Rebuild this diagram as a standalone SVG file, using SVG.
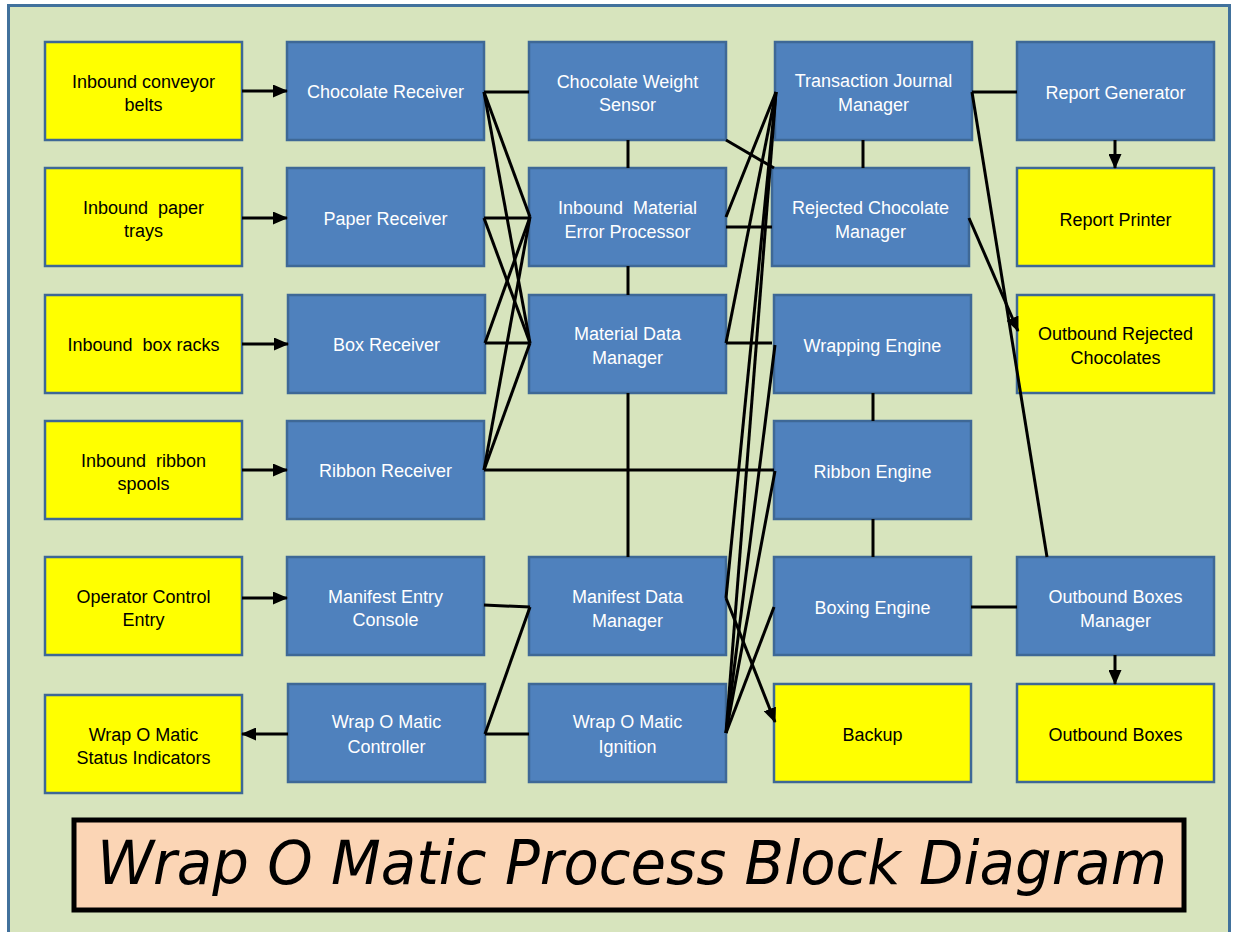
<svg xmlns="http://www.w3.org/2000/svg" width="1234" height="932" viewBox="0 0 1234 932">
<defs>
<marker id="ah" markerWidth="15" markerHeight="13" refX="14" refY="6.5" orient="auto" markerUnits="userSpaceOnUse" viewBox="0 0 15 13">
<path d="M0,0 L15,6.5 L0,13 Z" fill="#000"/>
</marker>
<style>
.b{fill:#4F81BD;stroke:#3E6896;stroke-width:2.5}
.y{fill:#FFFF00;stroke:#3E6896;stroke-width:2.5}
.tw{fill:#FFFFFF;font-family:"Liberation Sans",Arial,sans-serif;font-size:18px;text-anchor:middle;white-space:pre}
.tb{fill:#000000;font-family:"Liberation Sans",Arial,sans-serif;font-size:18px;text-anchor:middle;white-space:pre}
.c line{stroke:#000;stroke-width:3;fill:none}
.c .a{marker-end:url(#ah)}
</style>
</defs>
<rect x="0" y="0" width="1234" height="932" fill="#FFFFFF"/>
<rect x="8.5" y="5.5" width="1221" height="930" fill="#D7E4BD" stroke="#41719C" stroke-width="3"/>

<g id="n-conveyor"><rect class="y" x="45" y="42" width="197" height="98"/><text class="tb" x="143.5" y="87.5">Inbound conveyor</text><text class="tb" x="143.5" y="110.5">belts</text></g>
<g id="n-paper-trays"><rect class="y" x="45" y="168" width="197" height="98"/><text class="tb" x="143.5" y="213.5">Inbound  paper</text><text class="tb" x="143.5" y="236.5">trays</text></g>
<g id="n-box-racks"><rect class="y" x="45" y="295" width="197" height="98"/><text class="tb" x="143.5" y="351">Inbound  box racks</text></g>
<g id="n-ribbon-spools"><rect class="y" x="45" y="421" width="197" height="98"/><text class="tb" x="143.5" y="466.5">Inbound  ribbon</text><text class="tb" x="143.5" y="489.5">spools</text></g>
<g id="n-operator"><rect class="y" x="45" y="557" width="197" height="98"/><text class="tb" x="143.5" y="602.5">Operator Control</text><text class="tb" x="143.5" y="625.5">Entry</text></g>
<g id="n-status"><rect class="y" x="45" y="695" width="197" height="98"/><text class="tb" x="143.5" y="740.5">Wrap O Matic</text><text class="tb" x="143.5" y="763.5">Status Indicators</text></g>

<g id="n-choc-recv"><rect class="b" x="287" y="42" width="197" height="98"/><text class="tw" x="385.5" y="98">Chocolate Receiver</text></g>
<g id="n-paper-recv"><rect class="b" x="287" y="168" width="197" height="98"/><text class="tw" x="385.5" y="225">Paper Receiver</text></g>
<g id="n-box-recv"><rect class="b" x="288" y="295" width="197" height="98"/><text class="tw" x="386.5" y="351">Box Receiver</text></g>
<g id="n-ribbon-recv"><rect class="b" x="287" y="421" width="197" height="98"/><text class="tw" x="385.5" y="477">Ribbon Receiver</text></g>
<g id="n-manifest-console"><rect class="b" x="287" y="557" width="197" height="98"/><text class="tw" x="385.5" y="602.5">Manifest Entry</text><text class="tw" x="385.5" y="625.5">Console</text></g>
<g id="n-controller"><rect class="b" x="288" y="684" width="197" height="98"/><text class="tw" x="386.5" y="727.5">Wrap O Matic</text><text class="tw" x="386.5" y="752.5">Controller</text></g>

<g id="n-weight-sensor"><rect class="b" x="529" y="42" width="197" height="98"/><text class="tw" x="627.5" y="87.5">Chocolate Weight</text><text class="tw" x="627.5" y="110.5">Sensor</text></g>
<g id="n-error-proc"><rect class="b" x="529" y="168" width="197" height="98"/><text class="tw" x="627.5" y="213.5">Inbound  Material</text><text class="tw" x="627.5" y="237.5">Error Processor</text></g>
<g id="n-material-dm"><rect class="b" x="529" y="295" width="197" height="98"/><text class="tw" x="627.5" y="340">Material Data</text><text class="tw" x="627.5" y="364">Manager</text></g>
<g id="n-manifest-dm"><rect class="b" x="529" y="557" width="197" height="98"/><text class="tw" x="627.5" y="602.5">Manifest Data</text><text class="tw" x="627.5" y="626.5">Manager</text></g>
<g id="n-ignition"><rect class="b" x="529" y="684" width="197" height="98"/><text class="tw" x="627.5" y="727.5">Wrap O Matic</text><text class="tw" x="627.5" y="752.5">Ignition</text></g>

<g id="n-journal"><rect class="b" x="775" y="42" width="197" height="98"/><text class="tw" x="873.5" y="87">Transaction Journal</text><text class="tw" x="873.5" y="110.5">Manager</text></g>
<g id="n-rejected-mgr"><rect class="b" x="772" y="168" width="197" height="98"/><text class="tw" x="870.5" y="213.5">Rejected Chocolate</text><text class="tw" x="870.5" y="237.5">Manager</text></g>
<g id="n-wrapping"><rect class="b" x="774" y="295" width="197" height="98"/><text class="tw" x="872.5" y="352">Wrapping Engine</text></g>
<g id="n-ribbon-eng"><rect class="b" x="774" y="421" width="197" height="98"/><text class="tw" x="872.5" y="478">Ribbon Engine</text></g>
<g id="n-boxing"><rect class="b" x="774" y="557" width="197" height="98"/><text class="tw" x="872.5" y="614">Boxing Engine</text></g>
<g id="n-backup"><rect class="y" x="774" y="684" width="197" height="98"/><text class="tb" x="872.5" y="741">Backup</text></g>

<g id="n-report-gen"><rect class="b" x="1017" y="42" width="197" height="98"/><text class="tw" x="1115.5" y="99">Report Generator</text></g>
<g id="n-report-printer"><rect class="y" x="1017" y="168" width="197" height="98"/><text class="tb" x="1115.5" y="225.5">Report Printer</text></g>
<g id="n-out-rejected"><rect class="y" x="1017" y="295" width="197" height="98"/><text class="tb" x="1115.5" y="340">Outbound Rejected</text><text class="tb" x="1115.5" y="364">Chocolates</text></g>
<g id="n-out-boxes-mgr"><rect class="b" x="1017" y="557" width="197" height="98"/><text class="tw" x="1115.5" y="602.5">Outbound Boxes</text><text class="tw" x="1115.5" y="626.5">Manager</text></g>
<g id="n-out-boxes"><rect class="y" x="1017" y="684" width="197" height="98"/><text class="tb" x="1115.5" y="741">Outbound Boxes</text></g>

<g id="connectors" class="c">
<line class="a" x1="242" y1="91" x2="287" y2="91"/>
<line class="a" x1="242" y1="218" x2="287" y2="218"/>
<line class="a" x1="242" y1="344" x2="288" y2="344"/>
<line class="a" x1="242" y1="470" x2="287" y2="470"/>
<line class="a" x1="242" y1="598" x2="287" y2="598"/>
<line class="a" x1="288" y1="734" x2="242" y2="734"/>
<line class="a" x1="1115" y1="140" x2="1115" y2="168"/>
<line class="a" x1="1115" y1="655" x2="1115" y2="684"/>
<line class="a" x1="969" y1="218" x2="1018" y2="331"/>
<line class="a" x1="726" y1="598" x2="775" y2="722"/>

<line x1="484" y1="92" x2="529" y2="92"/>
<line x1="484" y1="92" x2="530" y2="217"/>
<line x1="484" y1="92" x2="530" y2="343"/>
<line x1="484" y1="218" x2="530" y2="218"/>
<line x1="484" y1="218" x2="530" y2="343"/>
<line x1="485" y1="343" x2="530" y2="343"/>
<line x1="485" y1="343" x2="530" y2="217"/>
<line x1="484" y1="470" x2="530" y2="217"/>
<line x1="484" y1="470" x2="530" y2="343"/>
<line x1="484" y1="470" x2="774" y2="470"/>
<line x1="484" y1="605" x2="530" y2="607"/>
<line x1="530" y1="607" x2="485" y2="734"/>
<line x1="485" y1="734" x2="529" y2="734"/>

<line x1="628" y1="140" x2="628" y2="168"/>
<line x1="628" y1="266" x2="628" y2="295"/>
<line x1="628" y1="393" x2="628" y2="557"/>

<line x1="726" y1="140" x2="774" y2="168"/>
<line x1="726" y1="217" x2="776" y2="92"/>
<line x1="726" y1="227" x2="772" y2="227"/>
<line x1="726" y1="343" x2="776" y2="92"/>
<line x1="726" y1="343" x2="772" y2="343"/>
<line x1="776" y1="92" x2="726" y2="598"/>
<line x1="776" y1="92" x2="726" y2="733"/>
<line x1="775" y1="345" x2="726" y2="733"/>
<line x1="775" y1="471" x2="726" y2="733"/>
<line x1="774" y1="607" x2="726" y2="733"/>

<line x1="863" y1="140" x2="863" y2="168"/>
<line x1="873" y1="393" x2="873" y2="421"/>
<line x1="873" y1="519" x2="873" y2="557"/>
<line x1="972" y1="92" x2="1017" y2="92"/>
<line x1="972" y1="92" x2="1047" y2="557"/>
<line x1="971" y1="607" x2="1017" y2="607"/>
</g>

<g id="title">
<rect x="74" y="820" width="1110" height="90" fill="#FBD5B5" stroke="#000" stroke-width="5"/>
<text x="97" y="884" font-family="'DejaVu Sans',sans-serif" font-style="italic" font-size="60" fill="#000" textLength="1070" lengthAdjust="spacingAndGlyphs">Wrap O Matic Process Block Diagram</text>
</g>
</svg>
